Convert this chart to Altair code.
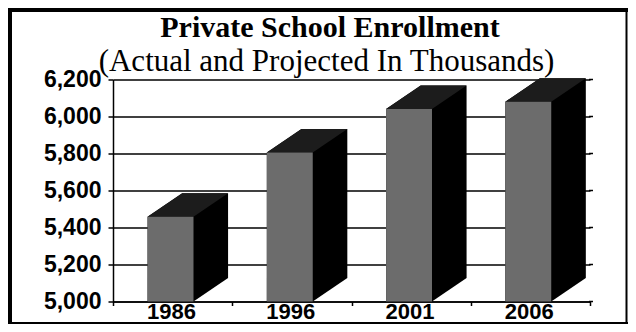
import altair as alt
import pandas as pd

# ---- data ----
categories = ["1986", "1996", "2001", "2006"]
values = [5458, 5806, 6041, 6080]          # thousands (front face tops)
y_ticks = [5000, 5200, 5400, 5600, 5800, 6000, 6200]
title_text = "Private School Enrollment"
subtitle_text = "(Actual and Projected In Thousands)"

# ---- 3D look (in data units) ----
BASE = 5000
FRONT_L = 0.29     # front face left, within each category slot
FRONT_R = 0.675    # front face right
DX = 0.29          # depth along x
DY = 127           # depth along y (value units)

front_rows, hex_rows, top_rows, label_rows = [], [], [], []
for i, (c, v) in enumerate(zip(categories, values)):
    x0, x1 = i + FRONT_L, i + FRONT_R
    front_rows.append({"cat": c, "x0": x0, "x1": x1, "lo": BASE, "hi": v})
    for x, lo, hi in [(x0, BASE, v), (x0 + DX, BASE, v + DY),
                      (x1, BASE, v + DY), (x1 + DX, BASE + DY, v + DY)]:
        hex_rows.append({"cat": c, "px": x, "lo": lo, "hi": hi})
    for x, lo, hi in [(x0, v, v), (x0 + DX, v, v + DY),
                      (x1, v, v + DY), (x1 + DX, v + DY, v + DY)]:
        top_rows.append({"cat": c, "px": x, "lo": lo, "hi": hi})
    label_rows.append({"cat": c, "px": i + 0.49})

front_df = pd.DataFrame(front_rows)
hex_df = pd.DataFrame(hex_rows)
top_df = pd.DataFrame(top_rows)
label_df = pd.DataFrame(label_rows)
tick_df = pd.DataFrame({"v": y_ticks})

W, H = 477, 222
PAD = {"left": 105, "top": 71.5, "right": 38, "bottom": 22.5}

xscale = alt.Scale(domain=[0, 4], nice=False, zero=False)
yscale = alt.Scale(domain=[5000, 6200], nice=False, zero=False)

x_axis = alt.Axis(values=[0, 1, 2, 3, 4], labels=False, title=None, grid=False,
                  tickSize=4, tickColor="black", tickWidth=1.5,
                  domainColor="black", domainWidth=1.5)
y_axis = alt.Axis(values=y_ticks, format=",d", title=None, grid=True,
                  gridColor="black", gridWidth=1.5, gridOpacity=1,
                  tickSize=5, tickColor="black", tickWidth=1.5,
                  domainColor="black", domainWidth=1.5,
                  labelFont="Liberation Sans", labelFontWeight="bold",
                  labelFontSize=23, labelColor="black", labelPadding=7)

hexagon = alt.Chart(hex_df).mark_area(color="black", opacity=1, clip=False).encode(
    x=alt.X("px:Q", scale=xscale, axis=x_axis, title=None),
    y=alt.Y("hi:Q", scale=yscale, axis=y_axis, title=None, stack=None),
    y2="lo:Q",
    detail="cat:N",
)

top = alt.Chart(top_df).mark_area(color="#1c1c1c", opacity=1, clip=False).encode(
    x=alt.X("px:Q", scale=xscale, axis=x_axis, title=None),
    y=alt.Y("hi:Q", scale=yscale, axis=y_axis, title=None, stack=None),
    y2="lo:Q",
    detail="cat:N",
)

front = alt.Chart(front_df).mark_rect(color="#6c6c6c", clip=False).encode(
    x=alt.X("x0:Q", scale=xscale, axis=x_axis, title=None),
    x2="x1:Q",
    y=alt.Y("lo:Q", scale=yscale, axis=y_axis, title=None),
    y2="hi:Q",
)

right_ticks = alt.Chart(tick_df).mark_rule(color="black", strokeWidth=1.5).encode(
    y=alt.Y("v:Q", scale=yscale, axis=y_axis, title=None),
    x=alt.value(W - 1),
    x2=alt.value(W + 3),
)

xlabels = alt.Chart(label_df).mark_text(
    font="Liberation Sans", fontWeight="bold", fontSize=22, color="black",
    align="center", baseline="alphabetic"
).encode(
    x=alt.X("px:Q", scale=xscale, axis=x_axis, title=None),
    y=alt.value(239.5),
    text="cat:N",
)

title = alt.Chart(pd.DataFrame({"t": [title_text]})).mark_text(
    font="Liberation Serif", fontWeight="bold", fontSize=30, color="black",
    align="center", baseline="alphabetic"
).encode(x=alt.value(217), y=alt.value(-42.5), text="t:N")

subtitle = alt.Chart(pd.DataFrame({"t": [subtitle_text]})).mark_text(
    font="Liberation Serif", fontSize=31, color="black",
    align="center", baseline="alphabetic"
).encode(x=alt.value(213.5), y=alt.value(-8.5), text="t:N")

# outer frame (pixel rules relative to the plot origin)
frame_df = pd.DataFrame({"k": [0]})
left_b = alt.Chart(frame_df).mark_rule(color="black", strokeWidth=4).encode(
    x=alt.value(-103), y=alt.value(-71.5), y2=alt.value(244.5))
top_b = alt.Chart(frame_df).mark_rule(color="black", strokeWidth=4).encode(
    x=alt.value(-105), x2=alt.value(515), y=alt.value(-69.5))
right_b = alt.Chart(frame_df).mark_rule(color="black", strokeWidth=2).encode(
    x=alt.value(513.5), y=alt.value(-71.5), y2=alt.value(244.5))
bottom_b = alt.Chart(frame_df).mark_rule(color="black", strokeWidth=2).encode(
    x=alt.value(-105), x2=alt.value(515), y=alt.value(243.5))

chart = alt.layer(
    hexagon, top, front, right_ticks, xlabels, title, subtitle,
    left_b, top_b, right_b, bottom_b
).properties(
    width=W, height=H, padding=PAD,
    autosize=alt.AutoSizeParams(type="none"),
    background="white",
).configure_view(strokeWidth=0)

chart.save("out.html", embed_options={"renderer": "svg", "actions": False})
